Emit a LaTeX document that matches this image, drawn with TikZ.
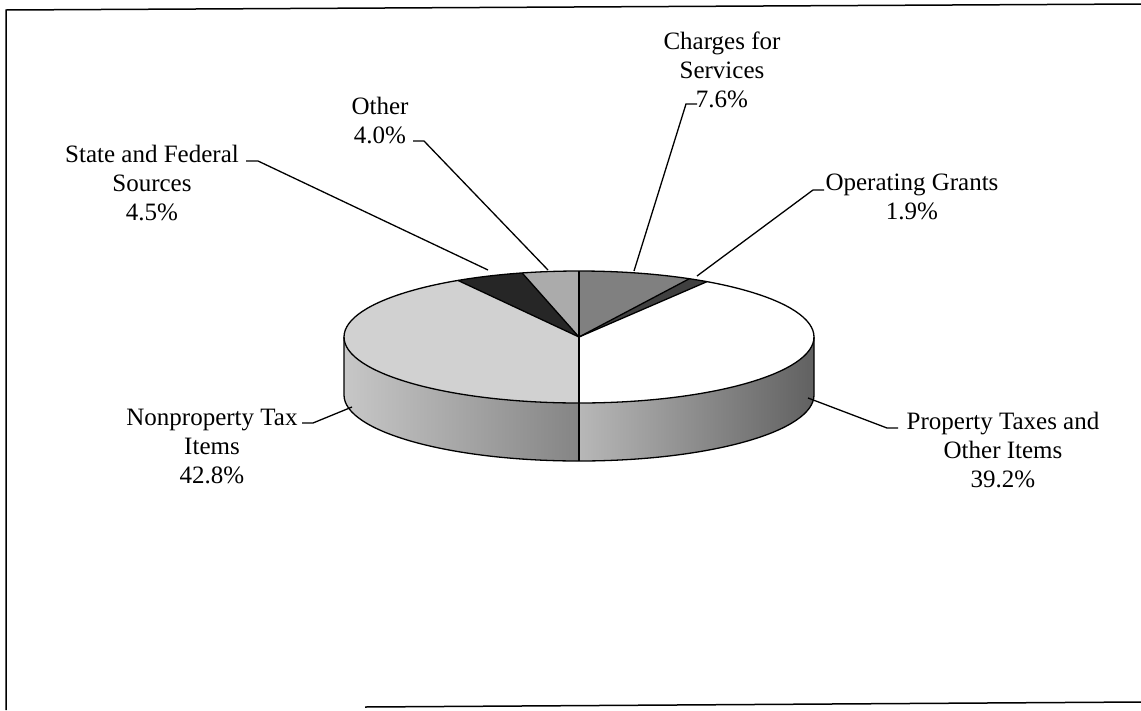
\documentclass[tikz,border=0pt]{standalone}
\usepackage{fontspec}
\setmainfont{Liberation Serif}
\begin{document}
\begin{tikzpicture}[x=1pt,y=1pt,
  lbl/.style={align=center, font=\fontsize{25}{29}\selectfont, inner sep=0pt},
  leader/.style={line width=1.3pt},
  edge/.style={line width=1.3pt},
  frame/.style={line width=1.5pt},
]
\useasboundingbox (0,0) rectangle (1141,-710);
% frame
\draw[frame] (1141,-4) -- (6,-10) -- (6,-710);
\draw[frame] (365,-707) -- (1141,-702);

% pie
\begin{scope}[shift={(579,-337)}]
  % side walls
  \shade[left color=black!22, middle color=black!15, right color=black!48]
    (180:235 and 66) arc[start angle=180,end angle=270,x radius=235,y radius=66]
    -- ++(0,-58) arc[start angle=270,end angle=180,x radius=235,y radius=66] -- cycle;
  \shade[left color=black!28, middle color=black!40, right color=black!62]
    (270:235 and 66) arc[start angle=270,end angle=360,x radius=235,y radius=66]
    -- ++(0,-58) arc[start angle=360,end angle=270,x radius=235,y radius=66] -- cycle;
  % top slices
  \fill[white]    (0,0) -- (270:235 and 66) arc[start angle=270,end angle=417,x radius=235,y radius=66] -- cycle;
  \fill[black!75] (0,0) -- (57:235 and 66)  arc[start angle=57,end angle=62,x radius=235,y radius=66] -- cycle;
  \fill[black!50] (0,0) -- (62:235 and 66)  arc[start angle=62,end angle=90,x radius=235,y radius=66] -- cycle;
  \fill[black!33] (0,0) -- (90:235 and 66)  arc[start angle=90,end angle=104,x radius=235,y radius=66] -- cycle;
  \fill[black!85] (0,0) -- (104:235 and 66) arc[start angle=104,end angle=121,x radius=235,y radius=66] -- cycle;
  \fill[black!18] (0,0) -- (121:235 and 66) arc[start angle=121,end angle=270,x radius=235,y radius=66] -- cycle;
  % outlines
  \draw[edge] (0,0) ellipse[x radius=235,y radius=66];
  \draw[edge] (180:235 and 66) -- ++(0,-58)
    arc[start angle=180,end angle=360,x radius=235,y radius=66] -- ++(0,58);
  \draw[edge] (270:235 and 66) -- ++(0,-58);
  \foreach \a in {57,62,90,104,121,270} \draw[edge] (0,0) -- (\a:235 and 66);
  % leader end points on the pie
  \coordinate (chP) at (55,-271+337);
  \coordinate (otP) at (-31,-270+337);
  \coordinate (stP) at (-91,-270+337);
  \coordinate (opP) at (118,-276+337);
  \coordinate (npP) at (-227,-407+337);
  \coordinate (prP) at (229,-398+337);
\end{scope}

% labels
\node[lbl] (charges) at (722,-70) {Charges for\\Services\\7.6\%};
\node[lbl] (other) at (380,-120) {Other\\4.0\%};
\node[lbl] (state) at (152,-183) {State and Federal\\Sources\\4.5\%};
\node[lbl] (operating) at (912,-197) {Operating Grants\\1.9\%};
\node[lbl] (nonprop) at (212,-446) {Nonproperty Tax\\Items\\42.8\%};
\node[lbl] (prop) at (1003,-450) {Property Taxes and\\Other Items\\39.2\%};

% leader lines
\coordinate (chA) at (697,-104); \coordinate (chB) at (686,-104);
\coordinate (otA) at (413,-141); \coordinate (otB) at (424,-141);
\coordinate (stA) at (246,-161); \coordinate (stB) at (258,-161);
\coordinate (opA) at (824,-190); \coordinate (opB) at (813,-190);
\coordinate (npA) at (302,-423); \coordinate (npB) at (313,-423);
\coordinate (prA) at (898,-428); \coordinate (prB) at (887,-428);
\draw[leader] (chA) -- (chB) -- (chP);
\draw[leader] (otA) -- (otB) -- (otP);
\draw[leader] (stA) -- (stB) -- (stP);
\draw[leader] (opA) -- (opB) -- (opP);
\draw[leader] (npA) -- (npB) -- (npP);
\draw[leader] (prA) -- (prB) -- (prP);
\end{tikzpicture}
\end{document}
